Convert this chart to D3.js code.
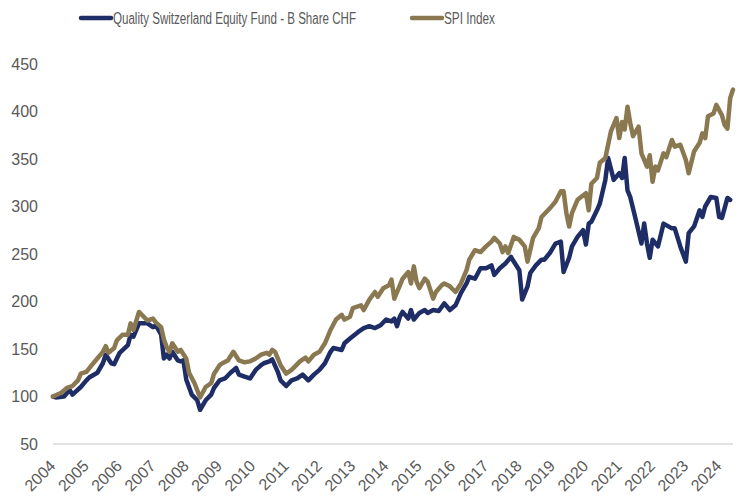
<!DOCTYPE html>
<html>
<head>
<meta charset="utf-8">
<script src="https://cdn.jsdelivr.net/npm/d3@7"></script>
<style>
  body { margin: 0; background: #fff; }
  .axisLabel { font-family: "Liberation Sans", Arial, sans-serif; font-size: 16px; fill: #595959; }
  .legendText { font-family: "Liberation Sans", Arial, sans-serif; font-size: 16px; fill: #595959; }
</style>
</head>
<body>
<div id="chart"></div>
<script>
// series names
var seriesNames = ["Quality Switzerland Equity Fund - B Share CHF", "SPI Index"];
var seriesColors = ["#1f2d66", "#8a7850"];

// y axis ticks
var yTicks = [50, 100, 150, 200, 250, 300, 350, 400, 450];

// fund
var fundDates = ["2004-01","2004-02","2004-05","2004-07","2004-08","2004-11","2005-01","2005-02","2005-05","2005-07","2005-08","2005-10","2005-11",
  "2006-01","2006-04","2006-05","2006-06","2006-08","2006-11","2007-01","2007-02","2007-04","2007-05","2007-06","2007-07","2007-08","2007-10","2007-11",
  "2007-12","2008-01","2008-03","2008-05","2008-06","2008-08","2008-10","2008-11","2009-01","2009-03","2009-05","2009-07","2009-08","2009-10","2009-12",
  "2010-02","2010-04","2010-05","2010-07","2010-08","2010-10","2010-11","2011-01","2011-03","2011-05","2011-07","2011-09","2011-11","2012-01","2012-03","2012-05",
  "2012-06","2012-09","2012-10","2012-12","2013-03","2013-05","2013-07","2013-09","2013-11","2014-01","2014-03","2014-04","2014-05","2014-06","2014-07",
  "2014-09","2014-10","2014-11","2015-01","2015-03","2015-04","2015-06","2015-08","2015-10","2015-12","2016-02","2016-04","2016-06","2016-07","2016-09",
  "2016-11","2017-01","2017-03","2017-04","2017-06","2017-08","2017-10","2017-11","2018-01","2018-02","2018-04","2018-05","2018-07","2018-09","2018-10",
  "2018-12","2019-02","2019-04","2019-05","2019-07","2019-08","2019-10","2019-12","2020-01","2020-02","2020-03","2020-05","2020-06","2020-08","2020-09",
  "2020-11","2021-01","2021-02","2021-03","2021-04","2021-05","2021-07","2021-09","2021-10","2021-11","2021-12","2022-01","2022-03","2022-04","2022-05",
  "2022-08","2022-09","2022-11","2023-01","2023-02","2023-04","2023-06","2023-07","2023-08","2023-10","2023-12","2024-01","2024-02","2024-04","2024-05","2024-06"];
var fundValues = [100,99,100,107,102,110,117,120,125,135,144,135,134,
  146,154,165,163,177,177,173,175,165,140,144,140,147,138,137,
  138,118,102,96,86,96,102,109,117,119,125,130,123,121,119,
  128,133,135,137,139,126,117,111,117,119,123,117,123,128,135,147,
  151,149,156,161,168,172,174,172,175,181,179,182,174,184,
  189,182,191,181,188,191,188,191,190,198,191,196,209,219,226,
  224,235,235,238,228,235,240,247,242,233,202,216,230,238,244,
  244,251,261,263,231,246,258,268,275,260,282,284,296,303,328,
  351,328,335,330,351,317,310,286,261,282,261,246,265,258,270,
  282,277,277,258,242,272,279,296,289,300,310,309,289,288,309,307];

// SPI
var spiDates = ["2004-01","2004-04","2004-06","2004-08","2004-10","2004-11","2005-01","2005-03","2005-05","2005-07","2005-08","2005-09","2005-11","2005-12",
  "2006-02","2006-04","2006-05","2006-06","2006-08","2006-11","2007-01","2007-02","2007-04","2007-05","2007-06","2007-07","2007-08","2007-10","2007-11",
  "2008-01","2008-02","2008-04","2008-06","2008-08","2008-10","2008-11","2009-01","2009-02","2009-04","2009-06","2009-08","2009-10","2009-12",
  "2010-02","2010-04","2010-06","2010-07","2010-08","2010-09","2010-11","2011-01","2011-03","2011-04","2011-06","2011-08","2011-09","2011-11",
  "2012-01","2012-03","2012-05","2012-07","2012-09","2012-10","2012-12","2013-01","2013-04","2013-05","2013-07","2013-09","2013-10","2013-12",
  "2014-02","2014-03","2014-04","2014-06","2014-07","2014-09","2014-10","2014-11","2014-12","2015-01","2015-03","2015-04","2015-06","2015-07",
  "2015-09","2015-10","2015-12","2016-02","2016-04","2016-06","2016-07","2016-09","2016-11","2017-01","2017-03","2017-04","2017-06","2017-07",
  "2017-08","2017-09","2017-11","2018-01","2018-03","2018-04","2018-06","2018-08","2018-09","2018-11","2018-12","2019-02","2019-04","2019-05",
  "2019-06","2019-07","2019-08","2019-10","2020-01","2020-02","2020-03","2020-05","2020-06","2020-08","2020-10","2020-12","2021-01","2021-02",
  "2021-03","2021-04","2021-05","2021-06","2021-08","2021-09","2021-11","2021-12","2022-01","2022-02","2022-03","2022-05","2022-06","2022-08",
  "2022-09","2022-11","2023-01","2023-02","2023-04","2023-06","2023-07","2023-08","2023-09","2023-11","2023-12","2024-02","2024-03","2024-04",
  "2024-05","2024-06"];
var spiValues = [100,104,109,111,117,124,126,133,140,147,153,146,151,159,
  165,165,177,170,189,180,182,178,173,160,152,147,156,147,149,
  140,125,114,99,110,114,124,133,135,138,147,138,136,137,
  140,144,146,144,149,147,133,124,128,131,137,141,137,144,
  147,156,170,181,186,181,184,193,196,191,202,210,205,214,
  217,223,203,217,224,231,219,237,221,214,224,221,203,210,
  217,219,216,210,219,233,244,254,252,258,263,267,261,252,
  258,251,268,265,258,242,267,277,289,295,298,305,316,316,
  293,279,293,307,314,296,324,330,346,351,379,393,372,389,
  381,405,388,374,384,356,342,354,326,342,338,356,352,370,
  363,365,349,335,358,367,377,372,395,398,407,396,386,382,
  414,423];

var svgWidth = 739;
var svgHeight = 498;
var margin = { top: 64, right: 6, bottom: 54, left: 53 };

var parseMonth = d3.timeParse("%Y-%m");

var svg = d3.select("#chart").append("svg").attr("width", svgWidth).attr("height", svgHeight);

var xScale = d3.scaleTime()
  .domain([parseMonth("2004-01"), parseMonth("2024-06")])
  .range([margin.left, svgWidth - margin.right]);
var yScale = d3.scaleLinear().domain([50, 450]).range([svgHeight - margin.bottom, margin.top]);

// baseline
svg.append("line")
  .attr("x1", margin.left).attr("x2", svgWidth - margin.right)
  .attr("y1", yScale(50)).attr("y2", yScale(50))
  .attr("stroke", "#d9d9d9").attr("stroke-width", 1.5);

// y axis
var yAxis = svg.append("g")
  .attr("transform", `translate(${margin.left - 12},0)`)
  .call(d3.axisLeft(yScale).tickValues(yTicks).tickSize(0).tickPadding(3));
yAxis.select(".domain").remove();
yAxis.selectAll("text").attr("class", "axisLabel").attr("font-family", null).attr("font-size", null).attr("fill", null);

// x axis, rotated year labels
var xAxis = svg.append("g")
  .attr("transform", `translate(0,${yScale(50)})`)
  .call(d3.axisBottom(xScale).ticks(d3.timeYear.every(1)).tickFormat(d3.timeFormat("%Y")).tickSize(0));
xAxis.select(".domain").remove();
xAxis.selectAll("text")
  .attr("class", "axisLabel").attr("font-family", null).attr("font-size", null).attr("fill", null)
  .attr("text-anchor", "end")
  .attr("y", 0).attr("dy", 0)
  .attr("transform", "translate(3,23) rotate(-45)");

// lines
var line = d3.line()
  .x(d => xScale(d.date))
  .y(d => yScale(d.value));

var fundData = fundDates.map((d, i) => ({ date: parseMonth(d), value: fundValues[i] }));
var spiData = spiDates.map((d, i) => ({ date: parseMonth(d), value: spiValues[i] }));

[fundData, spiData].forEach(function(data, i) {
  svg.append("path")
    .datum(data)
    .attr("fill", "none")
    .attr("stroke", seriesColors[i])
    .attr("stroke-width", 4.5)
    .attr("stroke-linejoin", "round")
    .attr("stroke-linecap", "round")
    .attr("d", line);
});

// legend (text squeezed like the narrow font of the original)
var legendX = [81, 412];
var legendWidth = [243, 51];
seriesNames.forEach(function(name, i) {
  var g = svg.append("g").attr("transform", `translate(${legendX[i]},18)`);
  g.append("line").attr("x1", 0).attr("x2", 30).attr("y1", 0).attr("y2", 0)
    .attr("stroke", seriesColors[i]).attr("stroke-width", 4.5).attr("stroke-linecap", "round");
  g.append("text").attr("class", "legendText").attr("x", 32).attr("y", 6)
    .attr("textLength", legendWidth[i]).attr("lengthAdjust", "spacingAndGlyphs")
    .text(name);
});
</script>
</body>
</html>
